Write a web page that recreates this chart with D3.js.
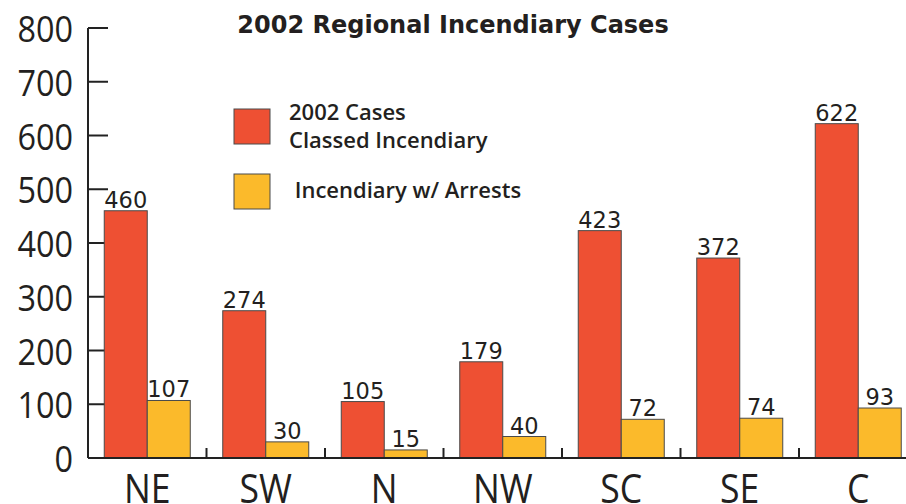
<!DOCTYPE html>
<html>
<head>
<meta charset="utf-8">
<script src="https://cdn.jsdelivr.net/npm/d3@7"></script>
<style>
  body { margin: 0; background: #fff; }
</style>
</head>
<body>
<div id="chart"></div>
<script>
// chart data
const regions = ['NE', 'SW', 'N', 'NW', 'SC', 'SE', 'C'];
const casesIncendiary = [460, 274, 105, 179, 423, 372, 622];
const casesArrests = [107, 30, 15, 40, 72, 74, 93];
const yTicks = [0, 100, 200, 300, 400, 500, 600, 700, 800];
const seriesNames = ['2002 Cases\nClassed Incendiary', ' Incendiary w/ Arrests'];
const seriesColors = ['#ee5033', '#fbba2b'];

drawChart();

function drawChart(){
    let width = 906, height = 504;
    let svg = d3.select('#chart').append('svg')
                .attr('width', width)
                .attr('height', height);

    // scales
    let x = d3.scaleBand().domain(regions).range([88, 917.5]).paddingInner(0).paddingOuter(0);
    let y = d3.scaleLinear().domain([0, 800]).range([458, 28]);
    let barW = 43;

    const rows = regions.map((r, i) => ({region: r, values: [casesIncendiary[i], casesArrests[i]]}));

    // y axis line + ticks
    svg.append('line')
        .attr('x1', 88).attr('x2', 88)
        .attr('y1', y(800)).attr('y2', y(0))
        .attr('stroke', '#222').attr('stroke-width', 2);
    svg.selectAll('line.ytick')
        .data(yTicks)
      .enter().append('line')
        .attr('class', 'ytick')
        .attr('x1', 88).attr('x2', 108)
        .attr('y1', d => y(d)).attr('y2', d => y(d))
        .attr('stroke', '#222').attr('stroke-width', 2);
    // condensed look: squeeze the glyphs a bit horizontally
    svg.selectAll('text.ylabel')
        .data(yTicks)
      .enter().append('text')
        .attr('class', 'ylabel')
        .attr('transform', d => 'translate(73,' + (y(d) + 14) + ') scale(0.9,1)')
        .attr('text-anchor', 'end')
        .style('font-family', '"Open Sans", sans-serif')
        .style('font-size', '36px')
        .attr('fill', '#231f20')
        .text(d => d);

    // bars
    let group = svg.selectAll('g.region')
        .data(rows)
      .enter().append('g')
        .attr('class', 'region')
        .attr('transform', d => 'translate(' + (x(d.region) + x.bandwidth()/2) + ',0)');

    group.selectAll('rect')
        .data(d => d.values)
      .enter().append('rect')
        .attr('x', (d, i) => i === 0 ? -barW : 0)
        .attr('y', d => y(d))
        .attr('width', barW)
        .attr('height', d => y(0) - y(d))
        .attr('fill', (d, i) => seriesColors[i])
        .attr('stroke', '#4a4a4a')
        .attr('stroke-width', 1);

    group.selectAll('text.val')
        .data(d => d.values)
      .enter().append('text')
        .attr('class', 'val')
        .attr('x', (d, i) => i === 0 ? -barW/2 : barW/2)
        .attr('y', d => y(d) - 3)
        .attr('text-anchor', 'middle')
        .style('font-family', '"DejaVu Sans", sans-serif')
        .style('font-size', '22.5px')
        .attr('fill', '#231f20')
        .text(d => d);

    // baseline + separators
    svg.append('line')
        .attr('x1', 88).attr('x2', width)
        .attr('y1', y(0)).attr('y2', y(0))
        .attr('stroke', '#222').attr('stroke-width', 2);
    svg.selectAll('line.sep')
        .data(regions.slice(1))
      .enter().append('line')
        .attr('class', 'sep')
        .attr('x1', d => x(d)).attr('x2', d => x(d))
        .attr('y1', y(0) - 10).attr('y2', y(0))
        .attr('stroke', '#222').attr('stroke-width', 2);

    // x labels
    svg.selectAll('text.xlabel')
        .data(regions)
      .enter().append('text')
        .attr('class', 'xlabel')
        .attr('transform', d => 'translate(' + (x(d) + x.bandwidth()/2) + ',503) scale(0.89,1)')
        .attr('text-anchor', 'middle')
        .style('font-family', '"Open Sans", sans-serif')
        .style('font-size', '40px')
        .attr('fill', '#231f20')
        .text(d => d);

    // title
    svg.append('text')
        .attr('x', 453).attr('y', 33)
        .attr('text-anchor', 'middle')
        .style('font-family', '"DejaVu Sans", sans-serif')
        .style('font-weight', 'bold')
        .style('font-size', '24px')
        .attr('fill', '#231f20')
        .text('2002 Regional Incendiary Cases');

    // legend
    let legend = svg.selectAll('g.legend')
        .data(seriesNames)
      .enter().append('g')
        .attr('class', 'legend')
        .attr('transform', (d, i) => 'translate(234,' + (109 + i * 65) + ')');
    legend.append('rect')
        .attr('width', 36).attr('height', 35)
        .attr('fill', (d, i) => seriesColors[i])
        .attr('stroke', '#4a4a4a').attr('stroke-width', 1);
    legend.append('text')
        .attr('x', 55)
        .attr('y', (d, i) => i === 0 ? 11 : 24)
        .style('font-family', '"Open Sans", sans-serif')
        .style('font-size', '22px')
        .style('font-weight', '600')
        .attr('fill', '#231f20')
        .style('white-space', 'pre')
        .each(function(d){
            let lines = d.split('\n');
            let t = d3.select(this);
            lines.forEach((l, k) => {
                t.append('tspan').attr('x', 55).attr('dy', k === 0 ? 0 : 28)
                    .attr('xml:space', 'preserve').text(l);
            });
        });
}
</script>
</body>
</html>
